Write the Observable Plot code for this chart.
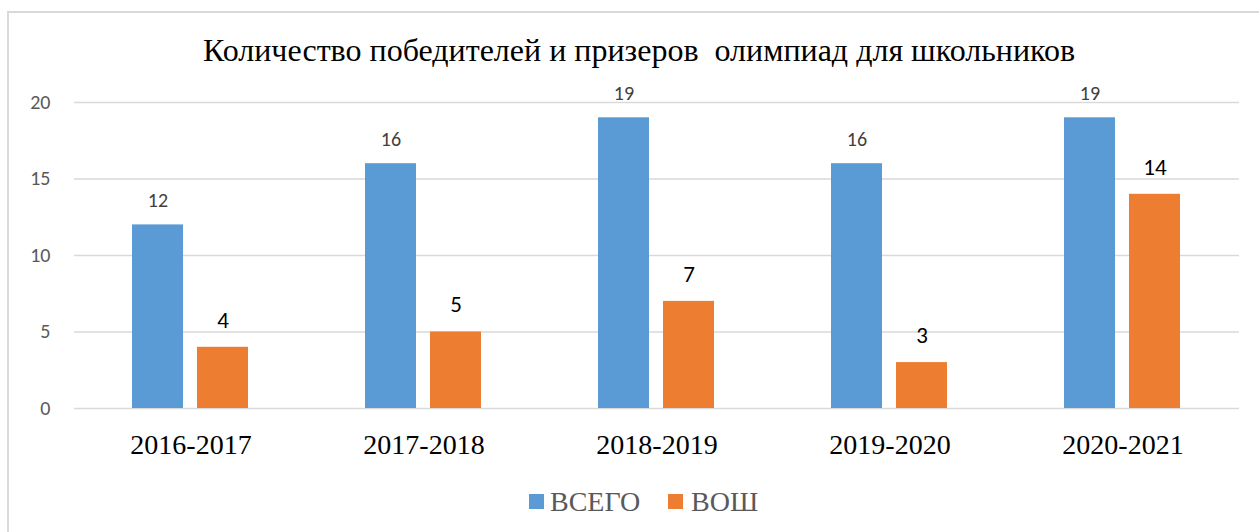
<!DOCTYPE html>
<html>
<head>
<meta charset="utf-8">
<script src="https://cdn.jsdelivr.net/npm/d3@7"></script>
<script src="https://cdn.jsdelivr.net/npm/@observablehq/plot@0.6"></script>
<style>
  html, body { margin: 0; padding: 0; background: #fff; }
  #wrap { position: relative; width: 1259px; height: 532px; overflow: hidden; background: #fff; }
  #border { position: absolute; left: 7px; top: 11px; width: 1400px; height: 700px; border: 2px solid #d9d9d9; box-sizing: border-box; }
  #title { position: absolute; left: 0; width: 1278px; top: 33px; text-align: center; font-family: "Liberation Serif", "Times New Roman", "DejaVu Serif", serif; font-size: 32px; line-height: 35px; color: #000; white-space: pre; }
  #chart { position: absolute; left: 0; top: 80px; }
  #legend { position: absolute; top: 487px; left: 0; font-family: "Liberation Serif", "Times New Roman", "DejaVu Serif", serif; font-size: 28px; line-height: 30px; color: #595959; }
  .sw { position: absolute; width: 15px; height: 15px; top: 7px; }
  .lt { position: absolute; top: 0; white-space: nowrap; }
</style>
</head>
<body>
<div id="wrap">
  <div id="border"></div>
  <div id="title"></div>
  <div id="chart"></div>
  <div id="legend"></div>
</div>
<script>
const titleText = "Количество победителей и призеров  олимпиад для школьников";
const years = ["2016-2017", "2017-2018", "2018-2019", "2019-2020", "2020-2021"];
const seriesNames = ["ВСЕГО", "ВОШ"];
const totalValues = [12, 16, 19, 16, 19];
const voshValues = [4, 5, 7, 3, 14];
const colors = ["#5B9BD5", "#ED7D31"];
const yTicks = [0, 5, 10, 15, 20];

document.getElementById("title").textContent = titleText;

const rows = [];
years.forEach((yr, i) => {
  rows.push({year: yr, series: seriesNames[0], value: totalValues[i]});
  rows.push({year: yr, series: seriesNames[1], value: voshValues[i]});
});

const sansFont = "Carlito, Lato, sans-serif";
const serifFont = "'Liberation Serif', 'Times New Roman', serif";

const chart = Plot.plot({
  width: 1259,
  height: 400,
  marginLeft: 72,
  marginRight: 18,
  marginTop: 22,
  marginBottom: 72,
  style: {background: "transparent", fontFamily: sansFont},
  fx: {domain: years, padding: 0, label: null, axis: null},
  x: {domain: seriesNames, paddingInner: 0.212, paddingOuter: 0.876, axis: null},
  y: {domain: [0, 20], label: null, axis: null},
  color: {domain: seriesNames, range: colors},
  marks: [
    Plot.ruleY(yTicks, {stroke: "#d9d9d9", strokeWidth: 1.5}),
    Plot.barY(rows, {fx: "year", x: "series", y: "value", fill: "series"}),
    Plot.text(rows.filter(d => d.series === seriesNames[0]), {
      fx: "year", x: "series", y: "value", text: d => String(d.value),
      dy: -24, fill: "#404040", fontSize: 20, fontFamily: sansFont
    }),
    Plot.text(rows.filter(d => d.series === seriesNames[1]), {
      fx: "year", x: "series", y: "value", text: d => String(d.value),
      dy: -27, fill: "#000000", fontSize: 23, fontFamily: sansFont
    }),
    Plot.axisY({ticks: yTicks, tickSize: 0, tickPadding: 24, fontSize: 20, fill: "#595959", label: null, fontFamily: sansFont}),
    Plot.axisFx({anchor: "bottom", tickSize: 0, tickPadding: 26, fontSize: 28, fill: "#000", fontFamily: serifFont, label: null})
  ]
});
document.getElementById("chart").appendChild(chart);

const legend = document.getElementById("legend");
const legendPos = [{sw: 529, tx: 550}, {sw: 668, tx: 691}];
seriesNames.forEach((name, i) => {
  const sw = document.createElement("div");
  sw.className = "sw";
  sw.style.left = legendPos[i].sw + "px";
  sw.style.background = colors[i];
  legend.appendChild(sw);
  const t = document.createElement("div");
  t.className = "lt";
  t.style.left = legendPos[i].tx + "px";
  t.textContent = name;
  legend.appendChild(t);
});
</script>
</body>
</html>
